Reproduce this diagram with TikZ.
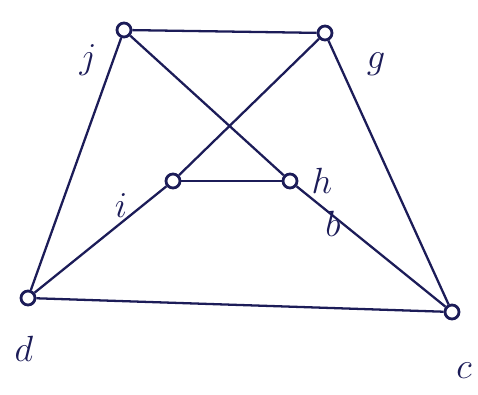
\documentclass[tikz,border=0pt]{standalone}
\usepackage{xcolor}
\usepackage{tikz}
\definecolor{ink}{RGB}{28,28,88}
\tikzset{
  vx/.style={circle,draw=ink,line width=1.6pt,minimum size=0.28cm,inner sep=0pt},
  ed/.style={draw=ink,line width=1.3pt},
  lb/.style={text=ink,font=\huge}
}

\begin{document}
\begin{tikzpicture}
\useasboundingbox (0,0) rectangle (9.56,7.88);
\node[vx] (j) at (2.48,7.28) {}; \node[lb] (lj) at (1.76,6.68) {$j$};
\node[vx] (g) at (6.50,7.22) {}; \node[lb] (lg) at (7.52,6.60) {$g$};
\node[vx] (i) at (3.46,4.26) {}; \node[lb] (li) at (2.42,3.76) {$i$};
\node[vx] (h) at (5.80,4.26) {}; \node[lb] (lh) at (6.44,4.26) {$h$};
\node[vx] (d) at (0.56,1.92) {}; \node[lb] (ld) at (0.48,0.90) {$d$};
\node[vx] (c) at (9.04,1.64) {}; \node[lb] (lc) at (9.28,0.46) {$c$};
\node[lb] (lb2) at (6.66,3.40) {$b$};
\draw[ed] (j) -- (g);
\draw[ed] (j) -- (d);
\draw[ed] (j) -- (h);
\draw[ed] (h) -- (c);
\draw[ed] (g) -- (i);
\draw[ed] (i) -- (d);
\draw[ed] (i) -- (h);
\draw[ed] (g) -- (c);
\draw[ed] (d) -- (c);
\end{tikzpicture}
\end{document}
